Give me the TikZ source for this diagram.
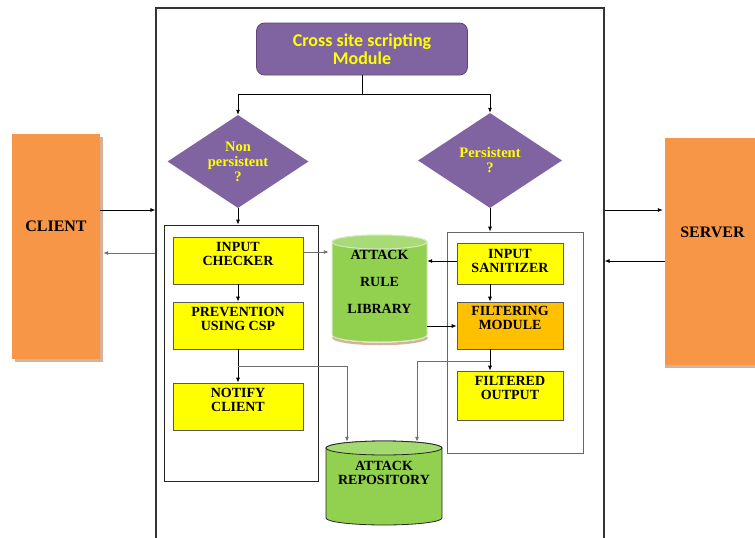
\documentclass[tikz,border=0pt]{standalone}
\usepackage{fontspec}
\setmainfont{Liberation Serif}
\newfontfamily\calfont{Carlito}
\usetikzlibrary{arrows.meta,shapes.geometric,calc}
\definecolor{purp}{HTML}{8064A2}
\definecolor{purpdark}{HTML}{5C4776}
\definecolor{yel}{HTML}{FFFF00}
\definecolor{orangec}{HTML}{F79646}
\definecolor{ambr}{HTML}{FFC000}
\definecolor{grn}{HTML}{92D050}
\definecolor{grntop}{HTML}{A9DA78}
\definecolor{shad}{HTML}{D6B29A}
\definecolor{lnk}{HTML}{6F6F6F}
\begin{document}
\begin{tikzpicture}[x=1pt,y=-1pt,
  frame/.style={draw=black!85, line width=0.7pt, inner sep=0pt},
  ybox/.style={draw=black!65, line width=0.6pt, fill=yel, align=center, inner sep=1pt,
    font=\bfseries\fontsize{14}{14}\selectfont},
  obox/.style={fill=orangec, align=center, inner sep=0pt, font=\bfseries\fontsize{16}{16}\selectfont},
  dec/.style={diamond, fill=purp, inner sep=0pt, aspect=1.5, align=center, text=yel,
    font=\bfseries\fontsize{14.5}{15}\selectfont},
  cyltext/.style={align=center, inner sep=0pt, font=\bfseries\fontsize{14}{14}\selectfont},
  arr/.style={-{Latex[length=5pt,width=4pt]}, line width=0.8pt, black},
  garr/.style={-{Latex[length=5pt,width=4pt]}, line width=0.9pt, lnk},
  gline/.style={line width=0.9pt, lnk}]
\useasboundingbox (0,0) rectangle (755,538);

% outer module frame
\node[frame, line width=1.2pt, draw=black!80, minimum width=448pt, minimum height=560pt] (main) at (380,288) {};
% group frames
\node[frame, minimum width=154pt, minimum height=256pt] (grpL) at (241,353) {};
\node[frame, draw=black!60, minimum width=136pt, minimum height=221pt] (grpR) at (515,342.5) {};

% client / server with shadow
\fill[shad] (15,137) rectangle (103,362);
\node[obox, minimum width=88pt, minimum height=225pt, text depth=41pt] (client) at (56,246.5) {CLIENT};
\fill[shad] (665,365) rectangle (760,368);
\node[obox, minimum width=95pt, minimum height=227pt, text depth=39pt] (server) at (712.5,251.5) {SERVER};

% top module
\node[draw=purpdark, line width=0.8pt, fill=purp, rounded corners=8pt, minimum width=211pt, minimum height=52pt,
  align=center, text=yel, inner sep=0pt, font=\calfont\bfseries\fontsize{18}{18}\selectfont] (xss) at (362,49)
  {Cross site scripting\\Module};

% decisions
\node[dec, minimum width=141pt, minimum height=93pt] (dL) at (238,161.5) {Non\\persistent\\?};
\node[dec, minimum width=144pt, minimum height=95pt] (dR) at (490,160.5) {Persistent\\?};

% left column boxes
\node[ybox, minimum width=130pt, minimum height=47pt, text depth=13pt] (chk) at (238,260.5) {INPUT\\CHECKER};
\node[ybox, minimum width=130pt, minimum height=47pt, text depth=13pt] (prev) at (238,325.5) {PREVENTION\\USING CSP};
\node[ybox, minimum width=130pt, minimum height=47pt, text depth=14pt] (notify) at (238,406.5) {NOTIFY\\CLIENT};

% right column boxes
\node[ybox, minimum width=106pt, minimum height=41pt, text depth=6pt] (san) at (510,263.5) {INPUT\\SANITIZER};
\node[ybox, fill=ambr, minimum width=106pt, minimum height=47pt, text depth=16pt] (filt) at (510,325.5) {FILTERING\\MODULE};
\node[ybox, minimum width=106pt, minimum height=49pt, text depth=16pt] (fout) at (510,395.5) {FILTERED\\OUTPUT};

% attack rule library cylinder
\draw[shad, line width=2.5pt] (333,337) arc[start angle=180, end angle=0, x radius=47, y radius=7];
\filldraw[fill=grn, draw=grn!40!white, line width=1pt]
  (332,242) -- (332,335) arc[start angle=180, end angle=0, x radius=47.5, y radius=7]
  -- (427,242) arc[start angle=0, end angle=-180, x radius=47.5, y radius=7] -- cycle;
\filldraw[fill=grntop, draw=grn!40!white, line width=1pt] (379.5,242) ellipse[x radius=47.5, y radius=7];
\node[cyltext, minimum width=95pt, minimum height=107pt, text depth=13pt] (lib) at (379.5,288.5)
  {ATTACK\\[13pt]RULE\\[13pt]LIBRARY};

% attack repository cylinder
\filldraw[fill=grn, draw=black!85, line width=0.8pt]
  (326,448) -- (326,518) arc[start angle=180, end angle=0, x radius=58, y radius=7]
  -- (442,448) arc[start angle=0, end angle=-180, x radius=58, y radius=7] -- cycle;
\filldraw[fill=grntop!80!grn, draw=black!85, line width=0.8pt] (384,448) ellipse[x radius=58, y radius=7];
\node[cyltext, minimum width=116pt, minimum height=84pt, text depth=21pt] (repo) at (384,483)
  {ATTACK\\REPOSITORY};

% module to decisions
\coordinate (split) at ($(xss.south)+(0,19)$);
\draw[line width=0.8pt] (xss.south) -- (split);
\draw[arr] (split) -| (dL.north);
\draw[arr] (split) -| (dR.north);
\draw[arr] (dL.south) -- (dL.south |- grpL.north);
\draw[arr] (dR.south) -- (dR.south |- grpR.north);

% left column flow
\draw[arr] (chk.south) -- (prev.north);
\draw[arr] (prev.south) -- (notify.north);
\coordinate (j1) at ($(prev.south)+(0,17)$);
\draw[garr] (j1) -| ($(repo.north)+(-37,1)$);
\coordinate (c1) at ($(chk.east)+(0,-8.5)$);
\draw[garr, shorten >=3pt] (c1) -- (c1 -| lib.west);

% right column flow
\draw[arr] (dR.south |- san.south) -- (dR.south |- filt.north);
\draw[arr] (dR.south |- filt.south) -- (dR.south |- fout.north);
\coordinate (j2) at ($(dR.south |- filt.south)+(0,12)$);
\draw[garr] (j2) -| ($(repo.north)+(33,1)$);
\coordinate (c2) at ($(san.west)+(0,-2.5)$);
\draw[arr] (c2) -- (c2 -| lib.east);
\coordinate (c3) at ($(filt.west)+(0,0.5)$);
\draw[arr] (c3 -| lib.east) -- (c3);

% client / server links
\draw[arr] (client.east |- 0,210) -- (main.west |- 0,210);
\draw[garr] (main.west |- 0,253) -- ([xshift=3pt]client.east |- 0,253);
\draw[arr] (main.east |- 0,210) -- ([xshift=-2pt]server.west |- 0,210);
\draw[arr] (server.west |- 0,261) -- (main.east |- 0,261);
\end{tikzpicture}
\end{document}
